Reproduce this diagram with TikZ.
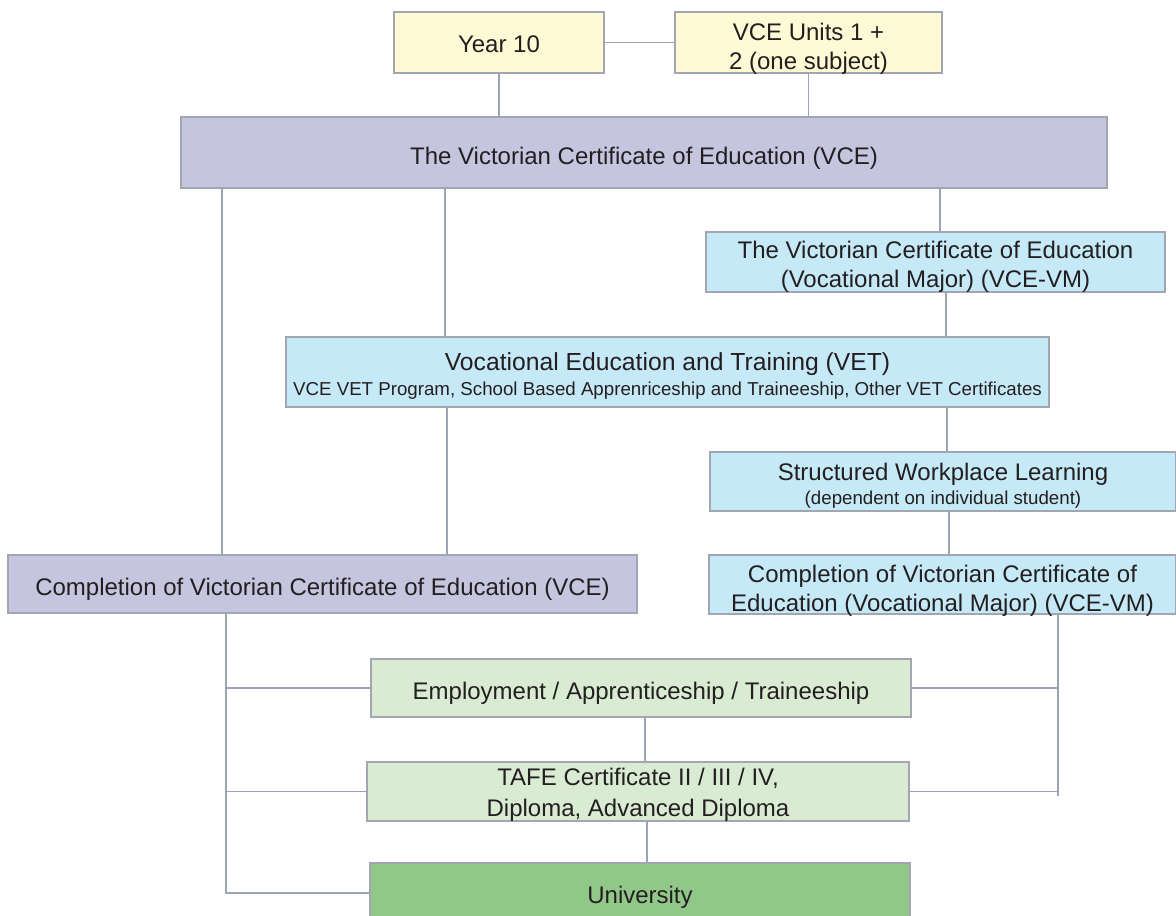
\documentclass[tikz,border=0pt]{standalone}
\usepackage{fontspec}
\setmainfont{Liberation Sans}
\definecolor{cyellow}{HTML}{FFFAD5}
\definecolor{cpurple}{HTML}{C6C5E0}
\definecolor{cblue}{HTML}{C6E9F8}
\definecolor{clgreen}{HTML}{D9EBD3}
\definecolor{cgreen}{HTML}{92C78A}
\definecolor{cborder}{HTML}{A2A6B0}
\definecolor{cline}{HTML}{9BA3B4}
\definecolor{ctext}{HTML}{231F20}
\tikzset{
  box/.style={draw=cborder, line width=1.5pt, inner sep=0pt, align=center,
    text=ctext, font=\fontsize{24}{29}\selectfont},
  conn/.style={draw=cline, line width=1.3pt},
}
\newcommand{\subt}{\fontsize{18.7}{24}\selectfont}
% lower a line by #1 pt without changing its reported size
\newcommand{\dn}[2]{\raisebox{-#1pt}[\height][\depth]{#2}}
\begin{document}
\begin{tikzpicture}[x=1pt,y=-1pt]
\useasboundingbox (0,0) rectangle (1176,916);
% boxes
\node[box, fill=cyellow, minimum width=210pt, minimum height=61pt] (y10) at (499,42.5) {\dn{2}{Year 10}};
\node[box, fill=cyellow, minimum width=267pt, minimum height=61pt] (vceu) at (808.5,42.5) {\dn{6}{VCE Units 1 +}\\\dn{6}{2 (one subject)}};
\node[box, fill=cpurple, minimum width=926pt, minimum height=71pt] (vce) at (644,152.5) {\dn{6}{The Victorian Certificate of Education (VCE)}};
\node[box, fill=cblue, minimum width=459pt, minimum height=60pt] (vm) at (935.5,262) {\dn{5}{The Victorian Certificate of Education}\\\dn{5}{(Vocational Major) (VCE-VM)}};
\node[box, fill=cblue, minimum width=763pt, minimum height=70pt, font=\fontsize{24.7}{25}\selectfont] (vet) at (667.5,372) {\dn{4}{Vocational Education and Training (VET)}\\\dn{4}{\subt VCE VET Program, School Based Apprenriceship and Traineeship, Other VET Certificates}};
\node[box, fill=cblue, minimum width=466pt, minimum height=59pt, font=\fontsize{24}{24}\selectfont] (swl) at (943,481.5) {\dn{4}{Structured Workplace Learning}\\\dn{4}{\subt (dependent on individual student)}};
\node[box, fill=cpurple, minimum width=629pt, minimum height=58pt] (cvce) at (322.5,584) {\dn{5}{Completion of Victorian Certificate of Education (VCE)}};
\node[box, fill=cblue, minimum width=467pt, minimum height=59pt] (cvm) at (942.5,584.5) {\dn{6}{Completion of Victorian Certificate of}\\\dn{6}{Education (Vocational Major) (VCE-VM)}};
\node[box, fill=clgreen, minimum width=540pt, minimum height=58pt] (emp) at (641,688) {\dn{5}{Employment / Apprenticeship / Traineeship}};
\node[box, fill=clgreen, minimum width=542pt, minimum height=59pt, font=\fontsize{24}{31}\selectfont] (tafe) at (638,791.5) {\dn{3}{TAFE Certificate II / III / IV,}\\\dn{3}{Diploma, Advanced Diploma}};
\node[box, fill=cgreen, minimum width=540pt, minimum height=60pt] (uni) at (640,893) {\dn{4}{University}};
% helper coordinates
\coordinate (c222) at (222,0);
\coordinate (c445) at (445,0);
\coordinate (c447) at (447,0);
\coordinate (c940) at (940,0);
\coordinate (c946) at (946,0);
\coordinate (c947) at (947,0);
\coordinate (c949) at (949,0);
\coordinate (c645) at (645,0);
\coordinate (c647) at (647,0);
\coordinate (lb) at (226,893);
\coordinate (rb) at (1058,796);
% connectors
\draw[conn] (y10.east) -- (vceu.west);
\draw[conn] (y10.south) -- (y10.south |- vce.north);
\draw[conn] (vceu.south) -- (vceu.south |- vce.north);
\draw[conn] (vce.south -| c222) -- (cvce.north -| c222);
\draw[conn] (vce.south -| c445) -- (vet.north -| c445);
\draw[conn] (vce.south -| c940) -- (vm.north -| c940);
\draw[conn] (vm.south -| c946) -- (vet.north -| c946);
\draw[conn] (vet.south -| c447) -- (cvce.north -| c447);
\draw[conn] (vet.south -| c947) -- (swl.north -| c947);
\draw[conn] (swl.south -| c949) -- (cvm.north -| c949);
\draw[conn] (cvce.south -| lb) |- (uni.west);
\draw[conn] (emp.west -| lb) -- (emp.west);
\draw[conn] (tafe.west -| lb) -- (tafe.west);
\draw[conn] (cvm.south -| rb) -- (rb);
\draw[conn] (emp.east) -- (emp.east -| rb);
\draw[conn] (tafe.east) -- (tafe.east -| rb);
\draw[conn] (emp.south -| c645) -- (tafe.north -| c645);
\draw[conn] (tafe.south -| c647) -- (uni.north -| c647);
\end{tikzpicture}
\end{document}
